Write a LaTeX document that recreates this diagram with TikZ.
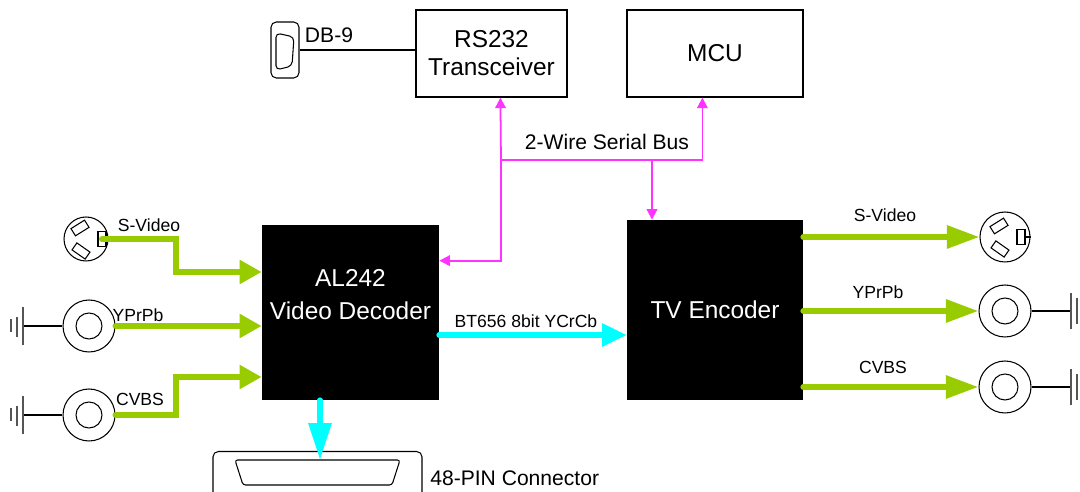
\documentclass[tikz,border=0pt]{standalone}
\usepackage{fontspec}
\setmainfont{Liberation Sans}
\usetikzlibrary{calc,arrows.meta}
\definecolor{vgreen}{HTML}{99CC00}
\definecolor{vcyan}{HTML}{00FFFF}
\definecolor{busc}{HTML}{FF33FF}
\definecolor{gndc}{HTML}{555555}
\tikzset{
  box/.style={draw=black, line width=0.7pt, inner sep=0, align=center, font=\fontsize{13.9}{15.9}\selectfont},
  blk/.style={fill=black, inner sep=0},
  blktxt/.style={text=white, inner sep=0, align=center, font=\fontsize{13.9}{18.7}\selectfont},
  lab/.style={text=black, inner sep=0, font=\fontsize{10}{12}\selectfont},
  labb/.style={text=black, inner sep=0, font=\fontsize{12}{14}\selectfont},
  vidin/.style={draw=vgreen, line width=3.4pt, line cap=round, -{Triangle[length=12.5pt,width=13pt]}},
  vidout/.style={draw=vgreen, line width=3.4pt, line cap=round, -{Triangle[length=18.5pt,width=12.5pt]}},
  dig/.style={draw=vcyan, line width=3.4pt, line cap=round, -{Triangle[length=#1,width=12.5pt]}},
  dig/.default=14pt,
  bus/.style={draw=busc, line width=1pt, -{Triangle[length=6pt,width=6pt]}},
  jack/.style={circle, draw=black, line width=0.6pt, inner sep=0, minimum size=1.04cm},
  pinbox/.style={draw=black, line width=0.6pt, inner sep=0},
  thinl/.style={draw=black, line width=0.6pt},
  gnd/.style={draw=gndc, line width=1.1pt}
}
% S-Video jack: name, centre, diameter
\newcommand{\svjack}[3]{%
  \node[jack, minimum size=#3] (#1) at (#2) {};
  \node[pinbox, minimum width=0.32cm, minimum height=0.17cm, rotate=32] at ($(#1.center)+(-6,-11)$) {};
  \node[pinbox, minimum width=0.32cm, minimum height=0.17cm, rotate=-35] at ($(#1.center)+(-5,12)$) {};
  \node[pinbox, minimum width=0.16cm, minimum height=0.3cm] (#1pin) at ($(#1.center)+(16,0)$) {};
}

\begin{document}
\begin{tikzpicture}[x=0.02cm, y=-0.02cm]
  \useasboundingbox (0,0) rectangle (1080,492);

  % boxes
  \node[box, minimum width=3.02cm, minimum height=1.74cm] (rs) at (491.5,53.5) {RS232\\Transceiver};
  \node[box, minimum width=3.52cm, minimum height=1.74cm] (mcu) at (715,53.5) {MCU};
  \node[blk, minimum width=3.54cm, minimum height=3.5cm] (dec) at (350.5,312.5) {};
  \node[blktxt] (dectxt) at ($(dec.center)+(0,-18)$) {AL242\\Video Decoder};
  \node[blk, minimum width=3.52cm, minimum height=3.6cm] (enc) at (715,310) {};
  \node[blktxt] (enctxt) at (enc.center) {TV Encoder};

  % DB-9
  \node[pinbox, rounded corners=3pt, minimum width=0.56cm, minimum height=1.12cm] (db9) at (285,50) {};
  \draw[thinl, rounded corners=2.5pt] (276,33) -- (294,37) -- (292,66) -- (276,70) -- cycle;
  \draw[thinl] (db9.east) -- (db9.east -| rs.west);
  \node[labb] (dblab) at (329,35) {DB-9};

  % 48-pin connector
  \node[pinbox, rounded corners=3pt, minimum width=4.18cm, minimum height=1.0cm, anchor=north] (pin48) at (317.5,451) {};
  \draw[thinl, rounded corners=1.5pt] (235,460) -- (400,460) -- (392,485) -- (243,485) -- cycle;
  \node[labb, anchor=west] (pinlab) at (430,478) {48-PIN Connector};

  % 2-wire bus
  \coordinate (rsin) at ($(rs.south west)+(85,0)$);
  \coordinate (mcuin) at ($(mcu.south west)+(76,0)$);
  \coordinate (busl) at (501,160);
  \coordinate (tap) at (652,160);
  \draw[bus] (busl) -- (rsin);
  \draw[bus] (busl) -| (mcuin);
  \draw[bus] (tap) -- (tap |- enc.north);
  \draw[bus] (busl) |- ($(dec.north east)+(0,36)$);
  \node[labb] (buslab) at (607,142) {2-Wire Serial Bus};

  % digital video
  \draw[dig] ($(dec.east)+(0,22.5)$) coordinate (d1) -- (d1 -| enc.west);
  \node[lab] (btlab) at (526,321) {BT656 8bit YCrCb};
  \coordinate (pintop) at (320,460);
  \draw[dig=21pt] (pintop |- dec.south) -- (pintop);

  % jacks
  \svjack{svin}{86,239}{0.88cm}
  \svjack{svout}{1005,237}{1.0cm}
  \draw[thinl] (svoutpin.east) -- (svoutpin.east -| svout.east);
  \foreach \j/\x/\y in {ypin/89/326, cvin/89/415} {
    \node[jack] (\j) at (\x,\y) {};
    \draw[thinl] (\j.center) circle (0.26cm);
    \draw[thinl] (\j.west) -- (23,\y);
    \draw[gnd] (23,\y-19) -- (23,\y+19);
    \draw[gnd] (17,\y-9) -- (17,\y+11);
    \draw[gnd] (11,\y-7) -- (11,\y+6);
  }
  \foreach \j/\x/\y in {ypout/1005/311, cvout/1005/387} {
    \node[jack] (\j) at (\x,\y) {};
    \draw[thinl] (\j.center) circle (0.26cm);
    \draw[thinl] (\j.east) -- (1071,\y);
    \draw[gnd] (1071,\y-18) -- (1071,\y+18);
    \draw[gnd] (1077,\y-13) -- (1077,\y+13);
  }

  % analog video in
  \coordinate (svbend) at (176,272);
  \coordinate (cvbend) at (176,377);
  \draw[vidin] (svinpin.center) -| (svbend) -- (svbend -| dec.west);
  \draw[vidin] (ypin.east) -- (ypin.east -| dec.west);
  \draw[vidin] (cvin.east) -| (cvbend) -- (cvbend -| dec.west);
  \node[lab] (svinlab) at (149,225) {S-Video};
  \node[lab] (ypinlab) at (138,315) {YPrPb};
  \node[lab] (cvinlab) at (140,399) {CVBS};

  % analog video out
  \draw[vidout] (svout.west -| enc.east) -- (svout.west);
  \draw[vidout] (ypout.west -| enc.east) -- (ypout.west);
  \draw[vidout] (cvout.west -| enc.east) -- (cvout.west);
  \node[lab] (svoutlab) at (885,215) {S-Video};
  \node[lab] (ypoutlab) at (878,292) {YPrPb};
  \node[lab] (cvoutlab) at (883,367) {CVBS};
\end{tikzpicture}
\end{document}
